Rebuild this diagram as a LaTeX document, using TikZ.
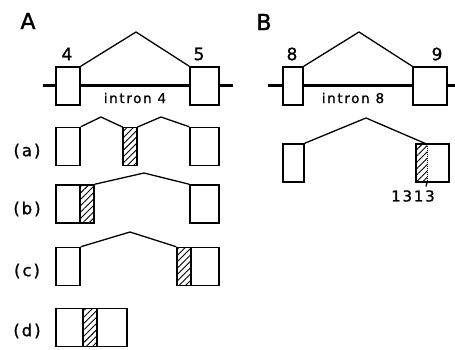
\documentclass[tikz,border=0pt]{standalone}
\usepackage{fontspec}
\setmainfont{DejaVu Sans}
\newfontfamily\lab[LetterSpace=12,FakeBold=1.2]{DejaVu Sans}
\newfontfamily\panelfont[FakeBold=1.5]{DejaVu Sans}
\usetikzlibrary{patterns.meta}
\tikzset{
  exon/.style={draw, line width=1.5pt, fill=white, rectangle, inner sep=0pt, minimum height=38pt},
  hatch/.style={exon, pattern={Lines[angle=45,distance=4.5pt,line width=0.9pt]}},
  splice/.style={line width=1.3pt, line join=round},
  intronline/.style={line width=3pt},
  exnum/.style={font=\lab\fontsize{17}{17}\selectfont, inner sep=0pt},
  intlab/.style={font=\lab\fontsize{13.5}{13.5}\selectfont, inner sep=0pt},
  rowlab/.style={font=\lab\fontsize{16.5}{16.5}\selectfont, inner sep=0pt},
  panel/.style={font=\panelfont\fontsize{22}{22}\selectfont, inner sep=0pt},
}
\begin{document}
\begin{tikzpicture}[x=1pt,y=-1pt]
\useasboundingbox (0,0) rectangle (455,350);
% ---------- Panel A ----------
\node[panel] (pA) at (28,21) {A};
\coordinate (la) at (43,86);
\coordinate (lb) at (233,86);
\draw[intronline] (la) -- (lb);
\node[exon, minimum width=24pt] (e4) at (68,86) {};
\node[exon, minimum width=29pt] (e5) at (204.5,86) {};
\coordinate (pk0) at (136,32);
\draw[splice] (e4.north east) -- (pk0) -- (e5.north west);
\node[exnum] (n4) at (67,54) {4};
\node[exnum] (n5) at (199,54) {5};
\node[intlab] (i4) at (135,98) {intron 4};
% row (a)
\node[rowlab] (ra) at (27,151) {(a)};
\node[exon, minimum width=24pt] (a1) at (68,146.5) {};
\node[hatch, minimum width=14pt] (ah) at (130,146.5) {};
\node[exon, minimum width=29pt] (a3) at (204.5,146.5) {};
\coordinate (pka1) at (101,117);
\coordinate (pka2) at (161,117);
\draw[splice] (a1.north east) -- (pka1) -- (ah.north west);
\draw[splice] (ah.north east) -- (pka2) -- (a3.north west);
% row (b)
\node[rowlab] (rb) at (27,209) {(b)};
\node[exon, minimum width=24pt] (b1) at (68,204) {};
\node[hatch, minimum width=14pt] (bh) at (87,204) {};
\node[exon, minimum width=29pt] (b3) at (204.5,204) {};
\coordinate (pkb) at (144,173);
\draw[splice] (bh.north east) -- (pkb) -- (b3.north west);
% row (c)
\node[rowlab] (rc) at (27,271) {(c)};
\node[exon, minimum width=24pt] (c1) at (68,266.5) {};
\node[exon, minimum width=28pt] (c3) at (205,266.5) {};
\node[hatch, minimum width=14pt] (ch) at (184,266.5) {};
\coordinate (pkc) at (130,232);
\draw[splice] (c1.north east) -- (pkc) -- (ch.north west);
% row (d)
\node[rowlab] (rd) at (27,331) {(d)};
\node[exon, minimum width=27pt] (d1) at (69.5,327.5) {};
\node[exon, minimum width=30pt] (d2) at (112,327.5) {};
\node[hatch, minimum width=14pt] (dh) at (90,327.5) {};
% ---------- Panel B ----------
\node[panel] (pB) at (264,22) {B};
\coordinate (lc) at (268,86);
\coordinate (ld) at (455,86);
\draw[intronline] (lc) -- (ld);
\node[exon, minimum width=20pt] (e8) at (293,86) {};
\node[exon, minimum width=34pt] (e9) at (430,86) {};
\coordinate (pk1) at (359,32);
\draw[splice] (e8.north east) -- (pk1) -- (e9.north west);
\node[exnum] (n8) at (292,54) {8};
\node[exnum] (n9) at (437,54) {9};
\node[intlab] (i8) at (353,98) {intron 8};
% spliced product
\node[exon, minimum width=21pt] (f1) at (293.5,163) {};
\node[exon, minimum width=33pt] (f2) at (432.5,163) {};
\node[rectangle, inner sep=0pt, minimum width=11pt, minimum height=37pt,
      pattern={Lines[angle=45,distance=4.5pt,line width=0.9pt]}] (fh) at (421.5,163) {};
\draw[line width=1pt, densely dotted] (fh.north east) -- (fh.south east);
\coordinate (pk2) at (366,118);
\draw[splice] (f1.north east) -- (pk2) -- (fh.north east);
\coordinate (tk) at (426,186.5);
\draw[line width=1.3pt] (fh.south east) -- (tk);
\node[intlab, font=\lab\fontsize{15}{15}\selectfont] (n1313) at (413,196) {1313};
\end{tikzpicture}
\end{document}
